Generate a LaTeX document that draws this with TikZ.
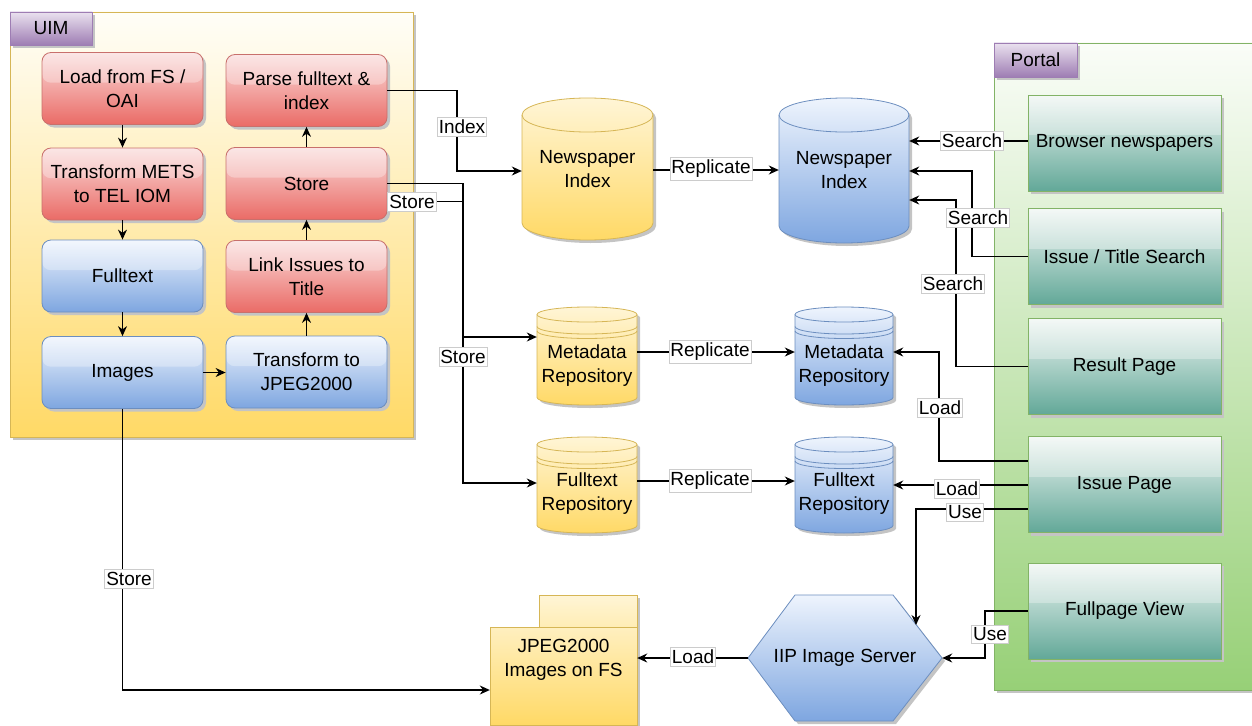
\documentclass[tikz,border=0pt]{standalone}
\usepackage{fontspec}
\setmainfont{Liberation Sans}
\usetikzlibrary{arrows.meta,calc,shadows}
\definecolor{redT}{HTML}{FADCDB}
\definecolor{redB}{HTML}{EA6B66}
\definecolor{redS}{HTML}{C8706C}
\definecolor{bluT}{HTML}{EEF4FD}
\definecolor{bluB}{HTML}{7EA6E0}
\definecolor{bluS}{HTML}{6C8EBF}
\definecolor{yelT}{HTML}{FFF5D6}
\definecolor{yelB}{HTML}{FFD966}
\definecolor{yelS}{HTML}{D6B656}
\definecolor{tealT}{HTML}{F0F6F3}
\definecolor{tealB}{HTML}{62A898}
\definecolor{tealS}{HTML}{82B366}
\definecolor{purT}{HTML}{EAE1EF}
\definecolor{purB}{HTML}{9E7DB3}
\definecolor{uimT}{HTML}{FFFEF8}
\definecolor{porT}{HTML}{FAFDF8}
\definecolor{porB}{HTML}{97D077}
\definecolor{shad}{HTML}{C4C4C4}

\newcommand\cylpath[5]{(#1,#2+#5) arc[start angle=180,end angle=0,x radius=\crx pt,y radius=#5pt] -- (#3,#4-#5) arc[start angle=0,end angle=-180,x radius=\crx pt,y radius=#5pt] -- cycle}
\newcommand\dbcyl[8]{%
  \pgfmathsetmacro\crx{(#3-#1)/2}%
  \begin{scope}[shift={(3,3)}]\fill[shad] \cylpath{#1}{#2}{#3}{#4}{#5};\end{scope}
  \path[draw=#8, line width=0.8pt, top color=#6, bottom color=#7] \cylpath{#1}{#2}{#3}{#4}{#5};
  \draw[#8, line width=0.8pt] (#1,#2+#5) arc[start angle=180,end angle=360,x radius=\crx pt,y radius=#5pt];
}
\newcommand\dbring[5]{% x1 y x2 ry stroke
  \pgfmathsetmacro\crx{(#3-#1)/2}%
  \draw[#5, line width=0.8pt] (#1,#2) arc[start angle=180,end angle=360,x radius=\crx pt,y radius=#4pt];
}

\tikzset{
  glass/.style={path picture={\fill[white,opacity=0.3] (path picture bounding box.north west) rectangle ($(path picture bounding box.north east)!0.42!(path picture bounding box.south east)$);}},
  procbox/.style={rounded corners=9pt, minimum width=161pt, minimum height=72pt, inner sep=0pt, align=center, line width=0.8pt,
    drop shadow={shadow xshift=3pt, shadow yshift=-3pt, fill=shad, opacity=1}, glass},
  redbox/.style={procbox, draw=redS, top color=redT, bottom color=redB},
  bluebox/.style={procbox, draw=bluS, top color=bluT, bottom color=bluB},
  tealbox/.style={minimum width=193pt, minimum height=96pt, inner sep=0pt, align=center, line width=0.8pt,
    draw=tealS, top color=tealT, bottom color=tealB,
    drop shadow={shadow xshift=3pt, shadow yshift=-3pt, fill=shad, opacity=1}, glass},
  tabbox/.style={inner sep=0pt, draw=purB, line width=0.6pt, top color=purT, bottom color=purB,
    drop shadow={shadow xshift=3pt, shadow yshift=-3pt, fill=shad, opacity=1}},
  shapenode/.style={inner sep=0pt, align=center},
  arr/.style={draw, line width=1.1pt, -{Stealth[length=10pt,width=9pt]}},
  lbl/.style={fill=white, draw=black!20, line width=0.6pt, inner xsep=1.5pt, inner ysep=2.5pt}
}

\begin{document}
\begin{tikzpicture}[x=1pt,y=-1pt,font=\fontsize{19}{24}\selectfont]
\useasboundingbox (0,0) rectangle (1252,725);
\clip (0,0) rectangle (1252,725);

% containers
\node[draw=yelS, line width=0.8pt, top color=uimT, bottom color=yelB, minimum width=403pt, minimum height=425pt, inner sep=0pt,
  drop shadow={shadow xshift=3pt, shadow yshift=-3pt, fill=shad, opacity=1}] (uim) at (211.5,224.5) {};
\node[tabbox, minimum width=82pt, minimum height=33pt] (uimtab) at (51,28.5) {UIM};

\node[draw=tealS, line width=0.8pt, top color=porT, bottom color=porB, minimum width=266pt, minimum height=647pt, inner sep=0pt,
  drop shadow={shadow xshift=3pt, shadow yshift=-3pt, fill=shad, opacity=1}] (portal) at (1127,366.5) {};
\node[tabbox, minimum width=83pt, minimum height=34pt] (portaltab) at (1035.5,60) {Portal};

% UIM boxes
\node[redbox] (load) at (122.5,88.5) {Load from FS /\\OAI};
\node[redbox] (tmets) at (122.5,184) {Transform METS\\to TEL IOM};
\node[bluebox] (full) at (122.5,276) {Fulltext};
\node[bluebox] (imgs) at (122.5,372.5) {Images};
\node[redbox] (parse) at (306.5,90.5) {Parse fulltext \&\\index};
\node[redbox] (store) at (306.5,183.5) {Store};
\node[redbox] (link) at (306.5,276.5) {Link Issues to\\Title};
\node[bluebox] (tjpeg) at (306.5,372) {Transform to\\JPEG2000};

% cylinders
\dbcyl{522}{98}{653}{240}{17}{yelT}{yelB}{yelS}
\node[shapenode, minimum width=131pt, minimum height=142pt] (yni) at (587.5,169) {Newspaper\\Index};
\dbcyl{779}{98}{909}{243}{17}{bluT}{bluB}{bluS}
\node[shapenode, minimum width=130pt, minimum height=145pt] (bni) at (844,170.5) {Newspaper\\Index};

\dbcyl{537}{307}{637}{405}{7.5}{yelT}{yelB}{yelS}
\dbring{537}{326.5}{637}{7.5}{yelS}\dbring{537}{331}{637}{7.5}{yelS}
\node[shapenode, minimum width=100pt, minimum height=98pt] (ymeta) at (587,356) {};
\node[shapenode] (ymetat) at (587,366) {Metadata\\Repository};

\dbcyl{537}{437}{637}{533}{7.5}{yelT}{yelB}{yelS}
\dbring{537}{456.5}{637}{7.5}{yelS}\dbring{537}{461}{637}{7.5}{yelS}
\node[shapenode, minimum width=100pt, minimum height=96pt] (yfull) at (587,485) {};
\node[shapenode] (yfullt) at (587,494) {Fulltext\\Repository};

\dbcyl{795}{307}{893}{405}{7.5}{bluT}{bluB}{bluS}
\dbring{795}{326.5}{893}{7.5}{bluS}\dbring{795}{331}{893}{7.5}{bluS}
\node[shapenode, minimum width=98pt, minimum height=98pt] (bmeta) at (844,356) {};
\node[shapenode] (bmetat) at (844,366) {Metadata\\Repository};

\dbcyl{795}{437}{893}{533}{7.5}{bluT}{bluB}{bluS}
\dbring{795}{456.5}{893}{7.5}{bluS}\dbring{795}{461}{893}{7.5}{bluS}
\node[shapenode, minimum width=98pt, minimum height=96pt] (bfull) at (844,485) {};
\node[shapenode] (bfullt) at (844,494) {Fulltext\\Repository};

% portal boxes
\node[tealbox] (browser) at (1124.5,143) {Browser newspapers};
\node[tealbox] (ists) at (1124.5,256.5) {Issue / Title Search};
\node[tealbox] (result) at (1124.5,366.5) {Result Page};
\node[tealbox] (issue) at (1124.5,484.5) {Issue Page};
\node[tealbox] (fullpage) at (1124.5,611) {Fullpage View};

% IIP hexagon
\fill[shad] (751,661) -- (798,598) -- (896,598) -- (945,661) -- (896,724) -- (798,724) -- cycle;
\path[draw=bluS, line width=0.8pt, top color=bluT, bottom color=bluB] (748,658) -- (795,595) -- (893,595) -- (942,658) -- (893,721) -- (795,721) -- cycle;
\node[shapenode, minimum width=194pt, minimum height=126pt] (iip) at (845,658) {IIP Image Server};
\coordinate (iiptop) at (916,625);

% JPEG folder
\fill[shad] (542,598) rectangle (640,630);
\fill[shad] (493,630) rectangle (640,728);
\path[draw=yelS, line width=0.8pt, top color=yelT, bottom color=yelT!70!yelB] (539,595) rectangle (637,627);
\path[draw=yelS, line width=0.8pt, top color=yelT!80!yelB, bottom color=yelB] (490,627) rectangle (637,725);
\node[shapenode, minimum width=147pt, minimum height=130pt] (jpeg) at (563.5,660) {JPEG2000\\Images on FS};

% connectors inside UIM
\draw[arr] (load) -- (tmets);
\draw[arr] (tmets) -- (full);
\draw[arr] (full) -- (imgs);
\draw[arr] (imgs.east) -- (imgs.east -| tjpeg.west);
\draw[arr] (tjpeg) -- (link);
\draw[arr] (link) -- (store);
\draw[arr] (store) -- (parse);

% connectors
\draw[arr] (parse.east) -- (457,90.5) -- (457,171) -- (yni.west |- 457,171);
\draw[arr] (yni.east |- 0,170) -- (bni.west |- 0,170);
\draw[arr] (store.east) -- (463,183.5) -- (463,337) -- (ymeta.west |- 0,337);
\draw[arr] ([yshift=-18pt]store.east) -- (463,201.5) -- (463,483) -- (yfull.west |- 0,483);
\draw[arr] (ymeta.east |- 0,352) -- (bmeta.west |- 0,352);
\draw[arr] (yfull.east |- 0,481) -- (bfull.west |- 0,481);
\draw[arr] (browser.west |- 0,141) -- (bni.east |- 0,141);
\draw[arr] (ists.west) -- (972,256.5) -- (972,171) -- (bni.east |- 0,171);
\draw[arr] (result.west) -- (956,366.5) -- (956,200) -- (bni.east |- 0,200);
\draw[arr] (issue.west |- 0,461) -- (939,461) -- (939,352) -- (bmeta.east |- 0,352);
\draw[arr] (issue.west |- 0,485) -- (bfull.east |- 0,485);
\draw[arr] (issue.west |- 0,509) -- (916,509) -- (iiptop);
\draw[arr] (fullpage.west) -- (985,611) -- (985,658) -- (iip.east);
\draw[arr] (iip.west) -- (jpeg.east |- iip.west);
\draw[arr] (imgs.south) -- (122.5,690) -- (jpeg.west |- 0,690);

% labels
\node[lbl] (l1) at (462,127) {Index};
\node[lbl] (l2) at (711,169) {Replicate};
\node[lbl] (l3) at (412,202) {Store};
\node[lbl] (l4) at (463,357) {Store};
\node[lbl] (l5) at (710,352) {Replicate};
\node[lbl] (l6) at (710,481) {Replicate};
\node[lbl] (l7) at (972,141) {Search};
\node[lbl] (l8) at (978,218) {Search};
\node[lbl] (l9) at (953,284) {Search};
\node[lbl] (l10) at (940,408) {Load};
\node[lbl] (l11) at (957,489) {Load};
\node[lbl] (l12) at (965,512) {Use};
\node[lbl] (l13) at (990,634) {Use};
\node[lbl] (l14) at (693,657) {Load};
\node[lbl] (l15) at (129,579) {Store};
\end{tikzpicture}
\end{document}
